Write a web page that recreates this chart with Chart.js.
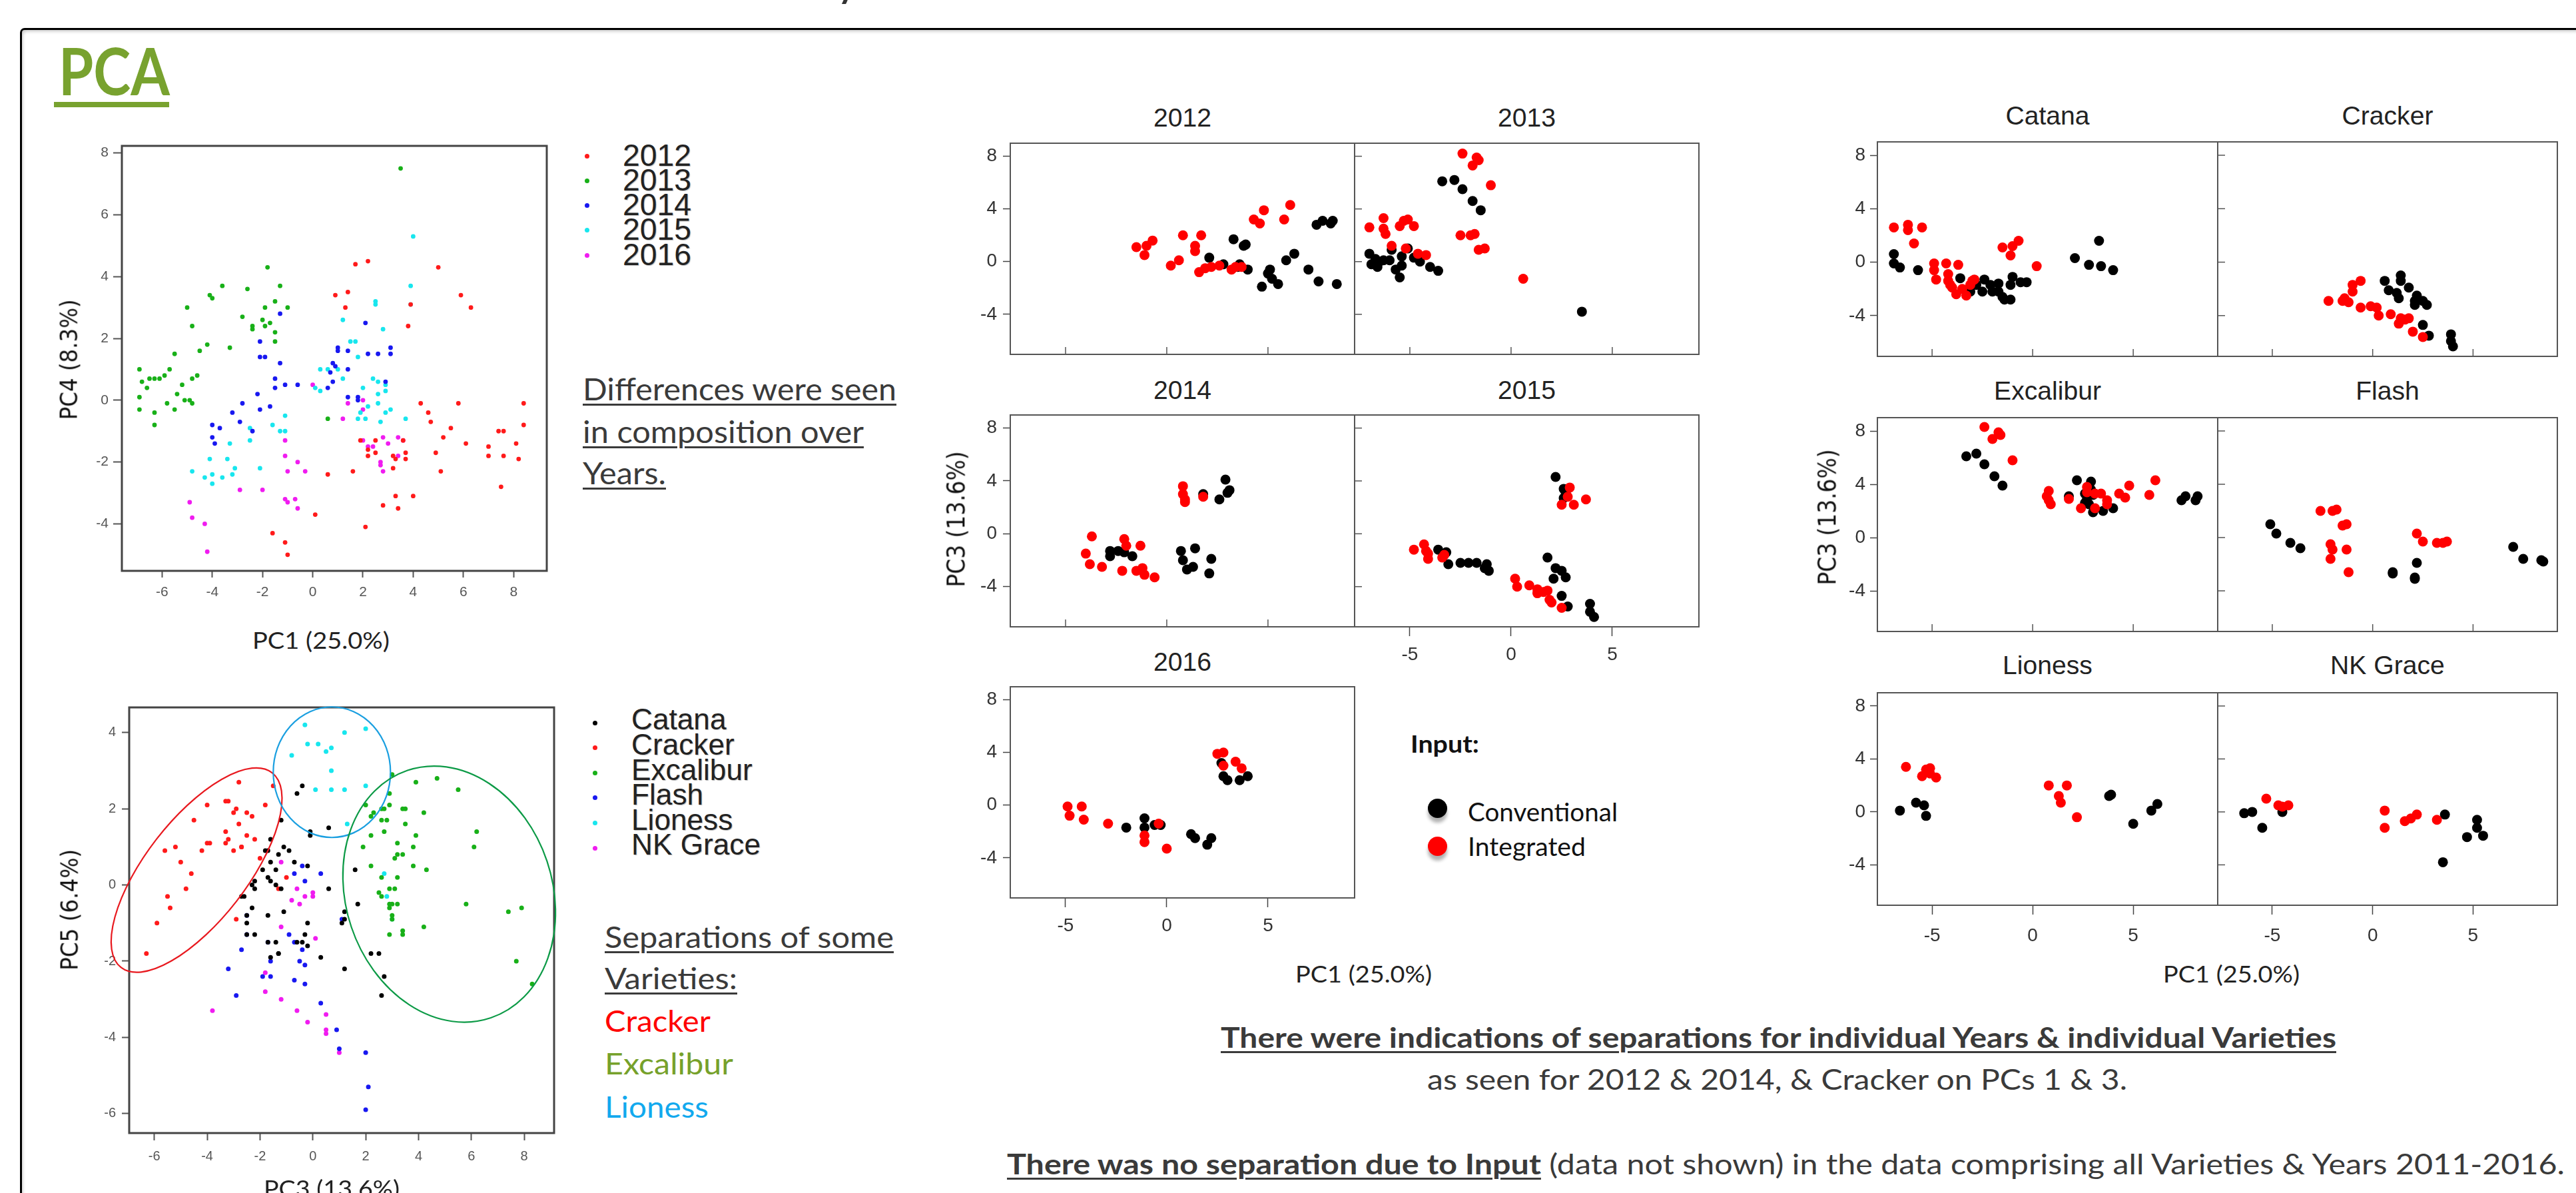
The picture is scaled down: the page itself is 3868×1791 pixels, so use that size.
<!DOCTYPE html>
<html>
<head>
<meta charset="utf-8">
<title>PCA</title>
<script src="https://cdn.jsdelivr.net/npm/chart.js@4.4.1/dist/chart.umd.min.js"></script>
<style>
  html, body { margin: 0; padding: 0; background: #fff; }
  body { position: relative; width: 3868px; height: 1791px; overflow: hidden; }
  canvas { position: absolute; }
  .t { position: absolute; white-space: nowrap; transform-origin: 0 0; margin: 0; }
  .t u, .t.ul { text-decoration: underline; text-decoration-thickness: 2.5px; text-underline-offset: 5px; }
  .dot { position: absolute; border-radius: 50%; }
  #frame { position: absolute; left: 30px; top: 42px; width: 3900px; height: 1800px;
    border-left: 3.5px solid #000; border-top: 3.5px solid #000; border-top-left-radius: 7px;
    box-shadow: inset 3px 4px 5px -2px rgba(0,0,0,0.22); }
</style>
</head>
<body>
<div id="frame"></div>
<script>
// categories
const years = ['2012', '2013', '2014', '2015', '2016'];
const varieties = ['Catana', 'Cracker', 'Excalibur', 'Flash', 'Lioness', 'NK Grace'];
const inputs = ['Conventional', 'Integrated'];

// tick labels
const ticksWideX = [-6, -4, -2, 0, 2, 4, 6, 8];
const ticksYearY = [-4, -2, 0, 2, 4, 6, 8];
const ticksVarY = [-6, -4, -2, 0, 2, 4];
const ticksPanelX = [-5, 0, 5];
const ticksPanelY = [-4, 0, 4, 8];

// PC1 vs PC4, coloured by year
const yr2012 = [[1.7,4.4],[2.2,4.5],[5.0,4.3],[0.9,3.4],[1.4,3.5],[1.3,3.0],[3.9,3.1],[3.8,2.4],[5.9,3.4],[6.3,3.0],[4.3,-0.1],[4.6,-0.4],[4.7,-0.7],[5.8,-0.1],[5.5,-0.9],[5.2,-1.2],[4.9,-1.7],[5.1,-2.3],[6.1,-1.4],[7.0,-1.5],[7.0,-1.8],[7.4,-1.0],[7.6,-1.0],[7.6,-1.8],[8.1,-1.4],[8.2,-1.9],[8.4,-0.1],[8.4,-0.8],[7.5,-2.8],[1.9,-1.3],[2.2,-1.6],[2.2,-1.8],[2.5,-1.7],[2.5,-1.3],[3.2,-1.8],[3.3,-1.9],[3.2,-2.2],[3.7,-1.7],[3.7,-1.9],[3.6,-1.3],[2.8,-3.4],[3.3,-3.1],[3.4,-3.5],[4.0,-3.1],[1.6,-2.3],[0.6,-2.4],[2.1,-4.1],[0.1,-3.7],[-1.6,-4.3],[-1.1,-4.6],[-1.0,-5.0]];
const yr2013 = [[-6.9,1.0],[-6.8,0.6],[-6.5,0.7],[-6.3,0.7],[-6.1,0.7],[-5.9,0.8],[-5.7,1.0],[-5.5,1.5],[-6.6,0.4],[-6.9,0.1],[-6.9,-0.3],[-6.3,-0.4],[-6.3,-0.8],[-5.8,-0.1],[-5.5,-0.3],[-5.4,0.2],[-5.2,0.5],[-5.1,0.0],[-4.9,0.0],[-4.8,-0.1],[-4.8,0.7],[-4.6,0.8],[-5.0,3.0],[-4.8,2.4],[-4.5,1.6],[-4.2,1.8],[-4.1,3.4],[-4.0,3.3],[-3.6,3.7],[-3.3,1.7],[-2.8,2.7],[-2.6,3.6],[-2.4,2.4],[-2.4,2.3],[-2.0,2.6],[-1.9,2.4],[-1.9,3.0],[-1.8,4.3],[-1.7,2.5],[-1.5,3.2],[-1.5,2.2],[-1.3,3.7],[-1.0,3.0],[-1.5,1.9],[0.6,-0.6],[3.5,7.5]];
const yr2014 = [[-1.3,2.8],[-2.1,1.9],[-2.1,1.4],[-1.9,1.4],[-1.3,1.2],[-1.5,0.7],[-1.5,0.4],[-1.1,0.5],[-0.6,0.5],[-2.2,0.2],[-2.8,-0.1],[-3.2,-0.4],[-2.9,-0.7],[-2.4,-1.0],[-2.1,-0.3],[-1.7,-0.2],[-4.0,-0.8],[-4.0,-1.2],[-3.9,-1.4],[-3.7,-0.9],[0.8,1.2],[0.9,1.1],[0.7,0.9],[1.0,1.6],[1.0,1.7],[1.4,1.6],[1.4,1.0],[0.8,0.6],[0.6,0.4],[1.4,0.1],[1.8,0.1],[1.8,0.0],[2.1,2.5],[2.2,1.5],[2.6,1.5],[2.9,0.6],[3.1,1.5],[3.1,1.7]];
const yr2015 = [[4.0,5.3],[3.9,3.7],[3.9,3.1],[2.5,3.2],[2.5,3.1],[1.2,2.6],[1.5,1.9],[1.7,1.9],[1.8,1.4],[2.8,2.3],[0.3,1.0],[0.6,1.0],[1.0,1.0],[0.1,0.4],[0.3,0.3],[1.2,0.7],[2.0,0.4],[2.4,0.7],[2.6,0.6],[2.9,0.5],[2.9,0.3],[2.6,0.2],[2.9,-0.4],[3.1,-0.3],[2.6,-0.1],[2.2,-0.2],[1.9,-0.4],[1.8,-0.6],[2.1,-0.6],[2.7,-0.7],[3.7,-0.6],[-1.1,-0.5],[-1.6,-0.8],[-1.3,-1.0],[-1.1,-1.0],[-2.1,-2.2],[-4.1,-1.9],[-4.0,-2.4],[-4.0,-2.7],[-4.3,-2.5],[-4.8,-2.3],[-3.6,-2.5],[-3.4,-1.9],[-3.3,-1.4],[-3.1,-2.2],[-3.2,-2.4],[-2.5,-0.9],[-2.5,-1.3]];
const yr2016 = [[0.0,0.5],[1.4,-0.1],[2.0,0.0],[1.2,-0.6],[2.0,-0.3],[-1.1,-1.3],[-1.1,-1.8],[-1.0,-2.3],[-0.6,-2.0],[-0.3,-2.3],[-2.9,-2.9],[-2.0,-2.9],[-1.1,-3.2],[-1.0,-3.3],[-0.7,-3.2],[-0.6,-3.5],[-4.9,-3.3],[-4.8,-3.8],[-4.3,-4.0],[-4.2,-4.9],[2.0,-1.3],[2.2,-1.5],[2.4,-1.5],[2.7,-2.0],[2.7,-2.1],[2.8,-2.3],[2.8,-1.2],[3.0,-1.4],[3.4,-1.2],[3.6,-1.3],[3.4,-1.8]];

// PC3 vs PC5, coloured by variety
const catanaB = [[-0.4,2.6],[-0.6,2.4],[-0.1,1.4],[0.6,1.5],[-0.1,1.3],[-1.2,1.7],[-1.6,1.2],[-1.7,0.9],[-1.1,1.0],[-0.9,0.9],[-1.3,0.8],[-1.8,0.9],[-1.6,0.6],[-0.7,0.6],[-0.2,0.5],[-1.9,0.4],[-1.4,0.4],[-1.7,0.2],[-1.6,0.1],[-1.4,0.0],[-1.2,-0.1],[-2.2,0.1],[-2.3,0.0],[-2.7,-0.3],[-2.6,-0.3],[-2.2,-0.1],[1.6,0.4],[0.6,-0.1],[1.7,-0.5],[1.2,-0.7],[1.2,-0.9],[1.1,-1.0],[-0.2,-1.0],[-1.1,-0.7],[-1.7,-0.8],[-2.5,-0.8],[-2.5,-1.0],[-2.3,-0.6],[-2.5,-1.3],[-2.2,-1.3],[-1.7,-1.5],[-1.4,-1.5],[-1.3,-1.8],[-1.3,-1.8],[-1.6,-1.9],[-0.6,-1.5],[-0.4,-1.5],[-0.3,-1.3],[-0.2,-1.6],[0.3,-1.9],[1.2,-2.2],[2.2,-1.8],[2.5,-1.8],[2.7,-2.4],[2.6,-2.9]];
const crackerB = [[-2.8,2.7],[-4.0,2.1],[-3.3,2.2],[-3.2,2.2],[-2.9,2.0],[-2.5,1.9],[-3.0,1.9],[-2.3,1.8],[-2.8,1.6],[-1.8,2.1],[-1.5,2.6],[-4.5,1.7],[-3.3,1.4],[-3.2,1.2],[-3.0,0.9],[-3.3,1.1],[-2.5,1.3],[-2.2,1.2],[-2.7,1.0],[-2.7,1.0],[-4.0,1.1],[-3.9,1.1],[-4.2,0.9],[-5.2,1.0],[-5.6,0.9],[-5.0,0.6],[-4.6,0.3],[-4.8,-0.1],[-5.5,-0.3],[-5.4,-0.6],[-5.9,-1.0],[-6.3,-1.8],[-2.9,-0.9],[-2.0,0.7],[-1.3,-0.1],[-1.0,0.2]];
const excaliburB = [[3.0,2.9],[3.9,2.7],[4.7,2.8],[5.5,2.5],[2.9,2.4],[2.0,2.1],[2.9,2.1],[2.6,2.0],[2.3,1.9],[2.2,1.8],[2.7,2.0],[3.4,2.0],[3.5,2.0],[4.2,1.9],[2.6,1.7],[2.8,1.7],[3.5,1.6],[3.9,1.3],[2.2,1.3],[2.7,1.4],[1.9,1.0],[3.2,1.1],[3.8,1.0],[2.2,0.5],[3.2,0.8],[3.1,0.7],[3.4,0.8],[3.8,0.5],[4.3,0.4],[2.6,0.2],[3.2,0.2],[2.5,-0.2],[2.9,-0.1],[3.1,-0.1],[2.6,-0.3],[2.9,-0.5],[3.0,-0.5],[3.2,-0.5],[2.9,-0.6],[3.0,-0.8],[3.0,-0.9],[3.4,-1.2],[3.4,-1.3],[2.9,-1.3],[4.2,-1.1],[5.8,-0.5],[6.2,1.4],[6.1,1.0],[7.4,-0.7],[7.9,-0.6],[7.7,-2.0],[8.3,-2.6]];
const flashB = [[-0.4,0.5],[0.3,0.3],[-0.3,0.1],[-0.7,0.3],[-2.5,-0.8],[-2.5,-1.3],[-2.7,-1.7],[-3.2,-2.2],[-2.9,-2.9],[-1.7,-1.5],[-1.6,-2.0],[-1.9,-2.4],[-1.6,-2.4],[-0.9,-1.3],[-0.7,-1.5],[-0.4,-1.7],[-0.5,-2.0],[-0.3,-2.1],[-0.7,-2.5],[-0.3,-2.6],[0.3,-3.1],[0.9,-3.8],[1.0,-4.3],[2.0,-4.4],[2.1,-5.3],[2.0,-5.9],[1.1,-0.9]];
const lionessB = [[-0.3,4.2],[1.2,4.0],[2.0,4.1],[-0.2,3.7],[0.2,3.7],[0.7,3.6],[0.5,3.5],[-0.8,3.4],[0.7,3.0],[0.7,2.5],[0.1,2.5],[1.2,2.5],[2.0,2.6],[1.3,1.6],[2.7,0.3],[2.8,-0.3],[3.0,-0.9]];
const nkgraceB = [[-1.2,0.6],[-0.6,-0.1],[0.0,-0.2],[0.0,-0.3],[-0.3,-0.3],[-0.8,-0.4],[-0.5,-0.5],[-1.2,-1.1],[0.1,-1.4],[-1.8,-2.3],[-1.8,-2.8],[-1.2,-3.0],[-0.6,-3.3],[-0.2,-3.6],[0.5,-3.4],[0.5,-3.8],[0.5,-3.9],[1.0,-4.4],[-3.8,-3.3]];

// PC1 vs PC3 per year, conventional / integrated
const y2012Conv = [[2.1,0.3],[2.8,-0.2],[3.3,1.7],[3.8,1.2],[3.9,1.3],[3.6,-0.2],[3.5,-0.4],[4.0,-0.6],[4.7,-1.9],[5.0,-0.9],[5.1,-0.6],[5.2,-1.3],[5.5,-1.7],[5.9,0.1],[6.3,0.6],[7.0,-0.6],[7.4,2.8],[7.7,3.1],[8.1,2.9],[8.2,3.1],[7.5,-1.5],[8.4,-1.7]];
const y2012Int = [[-1.5,1.1],[-1.1,0.5],[-1.0,1.2],[-0.7,1.6],[0.2,-0.3],[0.6,0.1],[0.8,2.0],[1.4,1.2],[1.4,0.8],[1.7,2.0],[1.6,-0.8],[1.9,-0.5],[2.2,-0.4],[2.6,-0.3],[3.2,-0.6],[3.7,-0.4],[4.3,3.2],[4.6,2.9],[4.8,3.9],[5.8,3.2],[6.1,4.3],[3.4,-0.4]];
const y2013Conv = [[-3.4,6.1],[-2.8,6.2],[-2.4,5.5],[-1.9,4.6],[-1.5,3.9],[-7.0,0.6],[-6.9,-0.2],[-6.7,0.2],[-6.5,0.0],[-6.3,0.1],[-6.6,-0.4],[-6.0,0.1],[-5.9,0.9],[-5.7,-0.6],[-5.5,-1.2],[-5.4,-0.3],[-5.4,0.4],[-5.1,1.0],[-4.8,0.3],[-4.5,0.0],[-4.0,-0.4],[-3.6,-0.7],[3.5,-3.8]];
const y2013Int = [[-2.4,8.2],[-1.9,7.3],[-1.7,7.9],[-1.6,7.7],[-1.0,5.8],[-7.0,2.6],[-6.3,3.3],[-6.3,2.5],[-6.2,2.1],[-5.5,2.7],[-5.3,3.1],[-5.1,3.2],[-4.8,2.7],[-5.9,1.2],[-5.2,1.0],[-4.6,0.6],[-4.2,0.5],[-2.5,2.0],[-2.0,2.0],[-1.8,2.1],[-1.6,0.9],[-1.3,1.0],[0.6,-1.3]];
const y2014Conv = [[-2.8,-1.3],[-2.8,-1.7],[-2.4,-1.3],[-2.1,-1.4],[-1.7,-1.7],[0.7,-1.3],[0.8,-2.0],[1.0,-2.7],[1.3,-2.5],[1.4,-1.1],[2.2,-1.9],[2.1,-3.0],[1.8,3.0],[2.6,2.6],[2.9,4.1],[3.1,3.3],[3.0,3.1]];
const y2014Int = [[-3.7,-0.2],[-4.0,-1.5],[-3.8,-2.3],[-3.2,-2.5],[-2.1,-0.4],[-2.0,-0.9],[-1.3,-0.9],[-2.2,-2.8],[-1.5,-2.8],[-1.2,-2.6],[-1.1,-3.1],[-0.6,-3.3],[0.8,3.6],[0.8,3.0],[0.9,2.6],[0.9,2.4],[1.8,2.8]];
const y2015Conv = [[-3.6,-1.2],[-3.2,-1.4],[-3.1,-2.3],[-2.5,-2.2],[-2.1,-2.2],[-1.7,-2.2],[-1.3,-2.6],[-1.2,-2.3],[-1.1,-2.8],[1.8,-1.8],[2.2,-2.6],[2.1,-3.4],[2.5,-2.8],[2.7,-3.3],[2.5,-4.7],[2.8,-5.5],[3.9,-5.3],[3.9,-5.9],[4.1,-6.3],[2.2,4.3],[2.6,3.4],[2.7,3.1],[2.6,2.7]];
const y2015Int = [[-4.8,-1.2],[-4.3,-0.8],[-4.2,-1.3],[-4.1,-1.9],[-4.1,-1.5],[-3.4,-1.8],[-3.3,-1.6],[0.2,-3.4],[0.3,-4.0],[0.9,-3.9],[1.3,-4.5],[1.3,-4.2],[1.6,-4.4],[1.8,-4.3],[1.9,-5.0],[2.0,-5.2],[2.5,-5.6],[2.5,2.2],[2.9,3.5],[3.1,2.2],[3.7,2.6],[2.8,2.8]];
const y2016Conv = [[-2.0,-1.7],[-1.1,-1.0],[-1.1,-1.7],[-0.6,-1.5],[-0.3,-1.5],[1.2,-2.2],[1.4,-2.5],[2.0,-3.0],[2.2,-2.5],[2.7,3.2],[2.8,2.2],[3.0,1.9],[3.6,1.9],[4.0,2.2]];
const y2016Int = [[-4.9,-0.1],[-4.2,-0.1],[-4.8,-0.8],[-4.1,-1.1],[-2.9,-1.4],[-1.1,-2.3],[-1.1,-2.8],[0.0,-3.3],[-0.4,-1.4],[2.5,3.9],[2.8,4.0],[3.4,3.3],[3.7,2.8],[2.8,3.0]];

// PC1 vs PC3 per variety, conventional / integrated
const catanaConv = [[-6.9,0.6],[-6.9,-0.1],[-6.6,-0.4],[-5.7,-0.6],[-3.6,-1.2],[-2.9,-1.5],[-2.8,-1.7],[-2.5,-2.2],[-2.4,-1.3],[-2.1,-1.7],[-2.0,-2.2],[-1.7,-1.6],[-1.7,-2.2],[-1.5,-2.6],[-1.4,-2.8],[-1.1,-2.8],[-1.1,-1.7],[-1.0,-1.1],[-0.6,-1.5],[-0.3,-1.5],[2.1,0.3],[2.8,-0.2],[3.3,1.6],[3.4,-0.3],[4.0,-0.6],[-3.1,-2.2]];
const catanaInt = [[-6.9,2.6],[-6.2,2.8],[-6.2,2.4],[-5.9,1.4],[-5.5,2.6],[-4.9,-0.1],[-4.9,-0.6],[-4.8,-1.3],[-4.3,-0.1],[-4.2,-0.9],[-4.2,-1.4],[-4.1,-1.7],[-4.0,-1.9],[-3.8,-2.4],[-3.7,-0.2],[-3.5,-2.0],[-3.3,-2.5],[-3.1,-1.7],[-3.0,-1.4],[-2.9,-1.3],[-1.5,1.1],[-1.0,1.2],[-1.1,0.5],[-0.7,1.6],[0.2,-0.3]];
const crackerConv = [[0.6,-1.4],[0.8,-2.1],[1.2,-2.3],[1.4,-1.0],[1.4,-1.4],[1.3,-2.7],[1.8,-1.9],[2.2,-2.5],[2.1,-3.2],[2.1,-2.9],[2.5,-2.9],[2.7,-3.2],[2.5,-4.7],[2.8,-5.5],[3.9,-5.4],[3.9,-5.9],[4.0,-6.3]];
const crackerInt = [[-2.2,-2.9],[-1.5,-2.9],[-1.4,-2.7],[-1.2,-3.0],[-1.0,-2.2],[-1.0,-1.7],[-0.6,-1.4],[-0.6,-3.4],[-0.1,-3.3],[0.2,-3.4],[0.3,-4.0],[0.9,-3.9],[1.3,-4.6],[1.4,-4.2],[1.6,-4.3],[1.8,-4.2],[2.0,-5.2],[2.5,-5.6]];
const excaliburConv = [[-3.3,6.1],[-2.8,6.3],[-2.4,5.5],[-1.9,4.6],[-1.5,3.9],[1.8,3.1],[2.2,4.3],[2.6,3.3],[2.7,2.9],[2.8,2.5],[2.9,4.2],[2.9,3.6],[3.0,1.9],[3.0,3.2],[3.5,2.0],[4.0,2.2],[7.4,2.8],[7.6,3.1],[8.1,2.8],[8.2,3.1],[2.6,2.6]];
const excaliburInt = [[-2.4,8.3],[-2.0,7.4],[-1.7,7.9],[-1.6,7.7],[-1.0,5.8],[0.8,3.5],[0.7,3.1],[0.8,2.8],[0.9,2.5],[1.8,2.9],[2.4,2.2],[2.7,3.8],[2.7,3.4],[3.1,3.3],[3.4,3.3],[3.7,2.8],[3.7,2.5],[4.3,3.3],[4.6,3.0],[4.8,3.9],[5.8,3.2],[6.1,4.3],[3.1,2.2]];
const flashConv = [[-5.1,1.0],[-4.8,0.3],[-4.1,-0.4],[-3.6,-0.8],[1.0,-2.7],[1.0,-2.6],[2.1,-3.0],[2.1,-3.1],[2.2,-1.9],[7.0,-0.7],[7.5,-1.6],[8.4,-1.7],[8.5,-1.8]];
const flashInt = [[-2.6,2.0],[-2.0,2.0],[-1.8,2.1],[-1.5,0.9],[-1.3,1.0],[-2.1,-0.5],[-2.0,-0.9],[-2.1,-1.6],[-1.3,-0.9],[-1.2,-2.6],[2.2,0.3],[2.5,-0.3],[3.2,-0.4],[3.5,-0.4],[3.7,-0.3]];
const lionessConv = [[-6.6,0.1],[-5.8,0.7],[-5.4,0.5],[-5.3,-0.3],[3.8,1.2],[3.9,1.3],[5.0,-0.9],[5.9,0.1],[6.2,0.6]];
const lionessInt = [[-6.3,3.4],[-5.5,2.7],[-5.3,3.2],[-5.1,3.3],[-5.1,2.9],[-4.8,2.6],[0.8,2.0],[1.7,2.0],[1.3,1.2],[1.4,0.7],[2.2,-0.4]];
const nkgraceConv = [[-6.4,-0.1],[-6.0,0.0],[-5.5,-1.2],[-4.5,0.0],[3.6,-0.2],[3.5,-3.8],[5.2,-0.6],[5.2,-1.2],[4.7,-1.9],[5.5,-1.8]];
const nkgraceInt = [[-5.3,1.0],[-4.7,0.5],[-4.5,0.4],[-4.2,0.5],[0.6,0.1],[0.6,-1.2],[1.6,-0.7],[1.9,-0.5],[2.2,-0.2],[3.2,-0.6]];

// colours
const yearColors = ['#ff1a1a', '#18b018', '#1818f0', '#18e6ee', '#f01cf0'];
const varColors = ['#000000', '#ff1a1a', '#18b018', '#1818f0', '#18e6ee', '#f01cf0'];
const inputColors = ['#000000', '#ff0000'];

const CAL = 'Lato, "Liberation Sans Narrow", sans-serif';
const NARROW = '"Liberation Sans Narrow", "Liberation Sans", sans-serif';
const ARIAL = '"Liberation Sans", Arial, sans-serif';
const DEJA = '"DejaVu Sans", sans-serif';

const pts = arr => arr.map(([x, y]) => ({ x, y }));

// box around the plot area, inner ticks and ellipses
const framePlugin = {
  id: 'frame',
  afterDatasetsDraw(chart, args, o) {
    const { ctx, chartArea: a } = chart;
    const xs = chart.scales.x, ys = chart.scales.y;
    ctx.save();
    ctx.strokeStyle = o.color;
    ctx.lineWidth = o.width;
    ctx.strokeRect(a.left, a.top, a.right - a.left, a.bottom - a.top);
    ctx.lineWidth = o.tickWidth;
    if (o.innerX) o.xt.forEach(v => {
      const p = xs.getPixelForValue(v);
      ctx.beginPath(); ctx.moveTo(p, a.bottom); ctx.lineTo(p, a.bottom - o.innerLen); ctx.stroke();
    });
    if (o.innerY) o.yt.forEach(v => {
      const p = ys.getPixelForValue(v);
      ctx.beginPath(); ctx.moveTo(a.left, p); ctx.lineTo(a.left + o.innerLen, p); ctx.stroke();
    });
    (o.ellipses || []).forEach(e => {
      ctx.strokeStyle = e.color;
      ctx.lineWidth = 2.2;
      ctx.beginPath();
      ctx.ellipse(xs.getPixelForValue(e.cx), ys.getPixelForValue(e.cy), e.rx, e.ry, e.rot * Math.PI / 180, 0, 2 * Math.PI);
      ctx.stroke();
    });
    ctx.restore();
  }
};

function scatter(o) {
  const [l, t, r, b] = o.box;
  const s = o.style;
  const padL = o.yOut ? 70 : 5, padB = o.xOut ? 70 : 5, padT = 6, padR = 6;
  const c = document.createElement('canvas');
  c.width = r - l + padL + padR;
  c.height = b - t + padT + padB;
  c.style.left = (l - padL) + 'px';
  c.style.top = (t - padT) + 'px';
  document.body.appendChild(c);

  const axis = (min, max, ticks, out, size, tl, pad) => ({
    type: 'linear', min, max,
    afterBuildTicks: sc => { sc.ticks = ticks.map(v => ({ value: v })); },
    afterFit: sc => {
      if (sc.isHorizontal()) sc.height = out ? size : 0; else sc.width = out ? size : 0;
      // keep the plot box exactly where it is placed
      sc.paddingTop = sc.paddingBottom = sc.paddingLeft = sc.paddingRight = 0;
    },
    grid: { display: out, drawOnChartArea: false, drawTicks: true, tickLength: tl, tickWidth: s.tickWidth, tickColor: s.tickColor, color: s.tickColor },
    border: { display: false },
    ticks: { display: out, autoSkip: false, maxRotation: 0, padding: pad, color: s.labelColor, font: s.font, callback: v => String(v) }
  });

  return new Chart(c, {
    type: 'scatter',
    data: {
      datasets: o.sets.map(d => ({
        label: d.label, data: pts(d.data),
        backgroundColor: d.color, borderColor: d.color, borderWidth: 0,
        pointRadius: s.r, pointHoverRadius: s.r
      }))
    },
    options: {
      responsive: false, animation: false, devicePixelRatio: 1, events: [],
      layout: { autoPadding: false, padding: { left: o.yOut ? 0 : padL, right: padR, top: padT, bottom: o.xOut ? 0 : padB } },
      plugins: {
        legend: { display: false }, tooltip: { enabled: false },
        frame: { color: s.frameColor, width: s.frameWidth, tickWidth: s.tickWidth, innerLen: s.innerLen,
          innerX: !o.xOut && o.inner, innerY: !o.yOut && o.inner, xt: o.xt, yt: o.yt, ellipses: o.ellipses || [] }
      },
      scales: {
        x: axis(o.xr[0], o.xr[1], o.xt, o.xOut, padB, s.xTick, s.xPad),
        y: axis(o.yr[0], o.yr[1], o.yt, o.yOut, padL, s.yTick, s.yPad)
      }
    },
    plugins: [framePlugin]
  });
}

// plot styles
const styleA = { r: 3.4, tickWidth: 2, tickColor: '#555', labelColor: '#555', font: { family: ARIAL, size: 21 },
  xTick: 10, xPad: 10, yTick: 13, yPad: 7, frameColor: '#444', frameWidth: 3, innerLen: 0 };
const styleB = { ...styleA, r: 3.5, font: { family: ARIAL, size: 20 }, xTick: 11, xPad: 12, yTick: 11, yPad: 9 };
const styleMid = { r: 7.5, tickWidth: 1.5, tickColor: '#444', labelColor: '#333', font: { family: NARROW, size: 28 },
  xTick: 14, xPad: 11, yTick: 11, yPad: 9, frameColor: '#555', frameWidth: 2, innerLen: 11 };
const styleRight = { ...styleMid, xPad: 15, yPad: 7 };

// left top: years
scatter({
  box: [183, 219, 821, 857], xr: [-7.6, 9.32], yr: [-5.52, 8.23], xt: ticksWideX, yt: ticksYearY,
  xOut: true, yOut: true, style: styleA,
  sets: [yr2012, yr2013, yr2014, yr2015, yr2016].map((d, i) => ({ label: years[i], data: d, color: yearColors[i] }))
});

// left bottom: varieties with ellipses
scatter({
  box: [194, 1062, 832, 1701], xr: [-6.95, 9.13], yr: [-6.51, 4.66], xt: ticksWideX, yt: ticksVarY,
  xOut: true, yOut: true, style: styleB,
  sets: [catanaB, crackerB, excaliburB, flashB, lionessB, nkgraceB].map((d, i) => ({ label: varieties[i], data: d, color: varColors[i] })),
  ellipses: [
    { cx: -4.4, cy: 0.39, rx: 185, ry: 76, rot: -52.2, color: '#e8191f' },
    { cx: 0.72, cy: 2.96, rx: 88, ry: 98, rot: 0, color: '#1a9fe0' },
    { cx: 5.16, cy: -0.24, rx: 196, ry: 155, rot: 71.4, color: '#0c9a46' }
  ]
});

// middle grid: per year
const midX = [-7.73, 9.28], midY = [-7.04, 8.99];
const yearPanels = [
  { box: [1517, 215, 2034, 532], conv: y2012Conv, integ: y2012Int, xOut: false, yOut: true },
  { box: [2034, 215, 2551, 532], conv: y2013Conv, integ: y2013Int, xOut: false, yOut: false },
  { box: [1517, 623, 2034, 941], conv: y2014Conv, integ: y2014Int, xOut: false, yOut: true },
  { box: [2034, 623, 2551, 941], conv: y2015Conv, integ: y2015Int, xOut: true, yOut: false },
  { box: [1517, 1031, 2034, 1348], conv: y2016Conv, integ: y2016Int, xOut: true, yOut: true }
];
yearPanels.forEach((p, i) => scatter({
  box: p.box, xr: midX, yr: midY, xt: ticksPanelX, yt: ticksPanelY, xOut: p.xOut, yOut: p.yOut, inner: true, style: styleMid,
  sets: [{ label: inputs[1] + ' ' + years[i], data: p.integ, color: inputColors[1] }, { label: inputs[0] + ' ' + years[i], data: p.conv, color: inputColors[0] }]
}));

// right grid: per variety
const rightX = [-7.72, 9.2], rightY = [-7.05, 9.0];
const varPanels = [
  { box: [2819, 213, 3330, 535], conv: catanaConv, integ: catanaInt, xOut: false, yOut: true },
  { box: [3330, 213, 3840, 535], conv: crackerConv, integ: crackerInt, xOut: false, yOut: false },
  { box: [2819, 627, 3330, 948], conv: excaliburConv, integ: excaliburInt, xOut: false, yOut: true },
  { box: [3330, 627, 3840, 948], conv: flashConv, integ: flashInt, xOut: false, yOut: false },
  { box: [2819, 1040, 3330, 1359], conv: lionessConv, integ: lionessInt, xOut: true, yOut: true },
  { box: [3330, 1040, 3840, 1359], conv: nkgraceConv, integ: nkgraceInt, xOut: true, yOut: false }
];
varPanels.forEach((p, i) => scatter({
  box: p.box, xr: rightX, yr: rightY, xt: ticksPanelX, yt: ticksPanelY, xOut: p.xOut, yOut: p.yOut, inner: true, style: styleRight,
  sets: [{ label: inputs[1] + ' ' + varieties[i], data: p.integ, color: inputColors[1] }, { label: inputs[0] + ' ' + varieties[i], data: p.conv, color: inputColors[0] }]
}));

// ---------- texts ----------
const mctx = document.createElement('canvas').getContext('2d');
function fontMetrics(fam, wt) {
  mctx.font = `${wt} 100px ${fam}`;
  const m = mctx.measureText('H');
  return { cap: m.actualBoundingBoxAscent / 100, asc: m.fontBoundingBoxAscent / 100, desc: m.fontBoundingBoxDescent / 100 };
}
function makeText(html, fs, o) {
  const el = document.createElement('div');
  el.className = 't' + (o.ul ? ' ul' : '');
  el.innerHTML = html;
  el.style.fontFamily = o.fam;
  el.style.fontWeight = o.wt;
  el.style.fontSize = fs + 'px';
  el.style.lineHeight = fs + 'px';
  el.style.color = o.color || '#3a3a3a';
  if (o.shadow) el.style.textShadow = o.shadow;
  document.body.appendChild(el);
  return el;
}
function put(html, o) {
  o = { fam: CAL, wt: 'normal', ...o };
  const m = fontMetrics(o.fam, o.wt);
  const fs = o.cap / m.cap;
  const el = makeText(html, fs, o);
  const w0 = el.getBoundingClientRect().width;
  const sc = o.w ? o.w / w0 : 1;
  const top = o.base - fs * ((1 - (m.asc + m.desc)) / 2 + m.asc);
  const left = o.align === 'center' ? o.x - w0 * sc / 2 : o.x;
  el.style.left = left + 'px';
  el.style.top = top + 'px';
  el.style.transform = `scaleX(${sc})`;
  return el;
}
function putRot(html, o) {
  o = { fam: DEJA, wt: 'normal', ...o };
  const m = fontMetrics(o.fam, o.wt);
  const fs = o.cap / m.cap;
  const el = makeText(html, fs, o);
  const w0 = el.getBoundingClientRect().width;
  const sc = o.len / w0;
  const baseOff = fs * ((1 - (m.asc + m.desc)) / 2 + m.asc);
  const d = (baseOff - o.cap / 2) - fs / 2;
  el.style.transformOrigin = '50% 50%';
  el.style.left = (o.cx - d - w0 / 2) + 'px';
  el.style.top = (o.cy - fs / 2) + 'px';
  el.style.transform = `rotate(-90deg) scaleX(${sc})`;
}
function dot(x, y, r, color, shadow) {
  const el = document.createElement('div');
  el.className = 'dot';
  el.style.left = (x - r) + 'px'; el.style.top = (y - r) + 'px';
  el.style.width = el.style.height = (2 * r) + 'px';
  el.style.background = color;
  if (shadow) el.style.boxShadow = shadow;
  document.body.appendChild(el);
}

// cut-off title glyph at the top
put('y', { x: 1258, base: -3, cap: 38, wt: 'bold', color: '#333' });

// heading
put('PCA', { x: 88, base: 144, cap: 71, w: 167, wt: 'bold', color: '#78a22f' });
const ul = document.createElement('div');
ul.style.cssText = 'position:absolute;left:81px;top:153px;width:173px;height:8px;background:#78a22f;';
document.body.appendChild(ul);

// legend: years
years.forEach((yv, i) => {
  dot(881, 234 + i * 37.3, 3.5, yearColors[i]);
  put(yv, { x: 935, base: 249 + i * 37.3, cap: 32, fam: ARIAL, color: '#222', shadow: '1px 1px 1px rgba(0,0,0,0.25)' });
});
// legend: varieties
varieties.forEach((v, i) => {
  dot(893, 1085 + i * 37.6, 3.5, varColors[i]);
  put(v, { x: 948, base: 1096 + i * 37.6, cap: 30.5, fam: ARIAL, color: '#222', shadow: '1px 1px 1px rgba(0,0,0,0.25)' });
});

// notes on the left
put('Differences were seen', { x: 875, base: 601, cap: 34, w: 471, ul: true });
put('in composition over', { x: 875, base: 665, cap: 34, w: 422, ul: true });
put('Years.', { x: 875, base: 727, cap: 34, w: 125, ul: true });
put('Separations of some', { x: 908, base: 1423, cap: 33, w: 434, ul: true });
put('Varieties:', { x: 908, base: 1485, cap: 33, w: 199, ul: true });
put('Cracker', { x: 908, base: 1549, cap: 33, w: 159, color: '#ff0000' });
put('Excalibur', { x: 908, base: 1613, cap: 33, w: 193, color: '#76a12b' });
put('Lioness', { x: 908, base: 1678, cap: 33, w: 156, color: '#12a9ee' });

// axis titles
put('PC1 (25.0%)', { x: 379, base: 975, cap: 26, w: 206, color: '#222' });
put('PC3 (13.6%)', { x: 396, base: 1798, cap: 26, w: 204, color: '#222' });
put('PC1 (25.0%)', { x: 1945, base: 1475, cap: 25, w: 205, color: '#222' });
put('PC1 (25.0%)', { x: 3248, base: 1475, cap: 25, w: 205, color: '#222' });
putRot('PC4 (8.3%)', { cx: 103, cy: 540, cap: 26, len: 181, color: '#111' });
putRot('PC5 (6.4%)', { cx: 103.6, cy: 1366, cap: 26, len: 182, color: '#111' });
putRot('PC3 (13.6%)', { cx: 1434.7, cy: 779, cap: 27, len: 204, color: '#111' });
putRot('PC3 (13.6%)', { cx: 2742.8, cy: 776, cap: 27, len: 204, color: '#111' });

// panel titles
const midCx = [1775.5, 2292.5], midBase = [190, 599, 1007];
years.forEach((yv, i) => put(yv, { x: midCx[i % 2], base: midBase[Math.floor(i / 2)], cap: 27, fam: NARROW, color: '#222', align: 'center' }));
const rightCx = [3074.5, 3585], rightBase = [187, 600, 1012];
varieties.forEach((v, i) => put(v, { x: rightCx[i % 2], base: rightBase[Math.floor(i / 2)], cap: 27, fam: NARROW, color: '#222', align: 'center' }));

// input legend
put('Input:', { x: 2118, base: 1131, cap: 26, w: 103, wt: 'bold', color: '#111' });
dot(2158, 1213, 14.5, inputColors[0], '0 7px 5px rgba(0,0,0,0.3)');
dot(2158, 1270, 14.5, inputColors[1], '0 7px 5px rgba(0,0,0,0.3)');
put(inputs[0], { x: 2204, base: 1233, cap: 28, w: 225, color: '#111' });
put(inputs[1], { x: 2204, base: 1285, cap: 28, w: 177, color: '#111' });

// conclusions
put('There were indications of separations for individual Years &amp; individual Varieties', { x: 1833, base: 1574, cap: 31, w: 1675, wt: 'bold', ul: true });
put('as seen for 2012 &amp; 2014, &amp; Cracker on PCs 1 &amp; 3.', { x: 2143, base: 1637, cap: 31, w: 1051 });
put('<b><u>There was no separation due to Input</u></b> (data not shown) in the data comprising all Varieties &amp; Years 2011-2016.', { x: 1512, base: 1764, cap: 31, w: 2339 });
</script>
</body>
</html>
